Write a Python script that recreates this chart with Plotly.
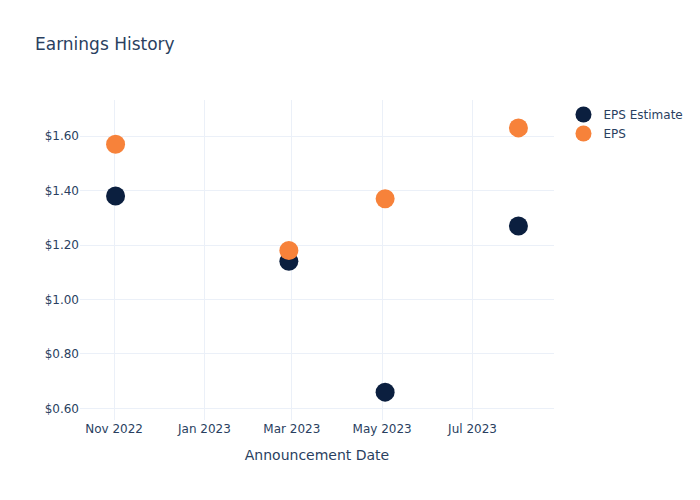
import plotly.graph_objects as go

dates = ["2022-11-02", "2023-02-27", "2023-05-03", "2023-08-01"]
eps_estimate = [1.38, 1.14, 0.66, 1.27]
eps_actual = [1.57, 1.18, 1.37, 1.63]

fig = go.Figure()
fig.add_trace(go.Scatter(x=dates, y=eps_estimate, mode="markers", name="EPS Estimate",
                         marker=dict(color="#0b1f3f", size=19)))
fig.add_trace(go.Scatter(x=dates, y=eps_actual, mode="markers", name="EPS",
                         marker=dict(color="#f7823a", size=19)))
fig.update_layout(
    template="plotly_white",
    width=700, height=500,
    font=dict(family="DejaVu Sans"),
    title=dict(text="Earnings History"),
    xaxis=dict(title=dict(text="Announcement Date"), tickformat="%b %Y", dtick="M2"),
    yaxis=dict(tickprefix="$", tickformat=".2f"),
)
fig.write_html("out.html")
